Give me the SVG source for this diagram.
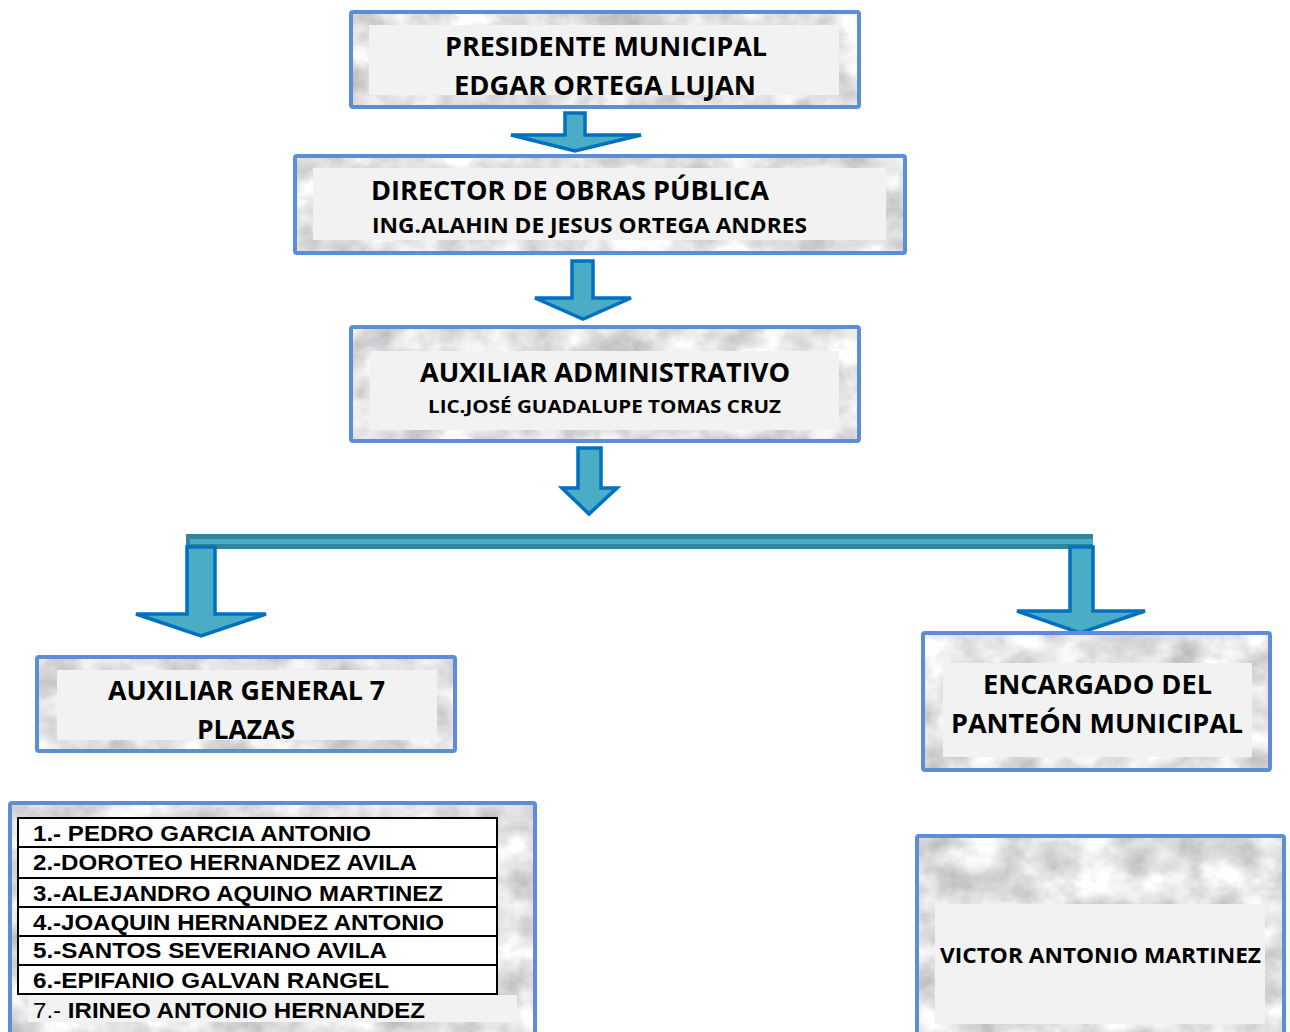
<svg xmlns="http://www.w3.org/2000/svg" width="1290" height="1032" viewBox="0 0 1290 1032">
<defs>
<filter id="marble" x="0" y="0" width="1" height="1" color-interpolation-filters="sRGB">
<feTurbulence type="fractalNoise" baseFrequency="0.025 0.03" numOctaves="4" seed="11" result="n"/>
<feColorMatrix in="n" type="matrix" values="0.45 0 0 0 0.66  0.45 0 0 0 0.66  0.45 0 0 0 0.67  0 0 0 0 1" result="g"/>
<feComposite in="g" in2="SourceGraphic" operator="in"/>
</filter>
<style>
.bg{fill:#e6e6e6;filter:url(#marble);}
.frame{fill:none;stroke:#5B8ED6;stroke-width:4;}
.panel{fill:#f2f2f2;}
.t{font-family:"Open Sans",Lato,"Liberation Sans",sans-serif;font-weight:bold;fill:#000;text-anchor:middle;}
.l{font-family:"Liberation Sans",Arial,sans-serif;font-weight:bold;fill:#000;font-size:22px;}
.arr{fill:#4BACC6;stroke:#0070C0;stroke-width:3.5;stroke-linejoin:miter;}
.row{fill:#fff;stroke:#000;stroke-width:2;}
</style>
</defs>
<rect width="1290" height="1032" fill="#fff"/>

<g id="connectors">
<polygon class="arr" points="565,113 585,113 585,135 641,135 575,151 511,135 565,135"/>
<polygon class="arr" points="572,261 593,261 593,298 631,298 583,319 535,298 572,298"/>
<polygon class="arr" points="578,448 601,448 601,488 617,488 589,514 562,488 578,488"/>
<rect x="186" y="534" width="907" height="15" fill="#31849B"/>
<rect x="190" y="539" width="903" height="5" fill="#4BACC6"/>
<polygon class="arr" points="187,547 215,547 215,614 266,614 201,636 136,614 187,614"/>
<polygon class="arr" points="1070,547 1093,547 1093,611 1145,611 1080,633 1017,611 1070,611"/>
</g>

<g id="presidente">
<rect class="bg" x="351" y="12" width="508" height="95"/>
<rect class="frame" x="351" y="12" width="508" height="95" rx="2"/>
<rect class="panel" x="369" y="25" width="470" height="70"/>
<text class="t" x="606" y="56" font-size="26" textLength="322" lengthAdjust="spacingAndGlyphs">PRESIDENTE MUNICIPAL</text>
<text class="t" x="605" y="95" font-size="26" textLength="302" lengthAdjust="spacingAndGlyphs">EDGAR ORTEGA LUJAN</text>
</g>

<g id="director">
<rect class="bg" x="295" y="156" width="610" height="97"/>
<rect class="frame" x="295" y="156" width="610" height="97" rx="2"/>
<rect class="panel" x="313" y="168" width="573" height="72"/>
<text class="t" x="570" y="200" font-size="26" textLength="398" lengthAdjust="spacingAndGlyphs">DIRECTOR DE OBRAS PÚBLICA</text>
<text class="t" x="589.5" y="233" font-size="21" textLength="435" lengthAdjust="spacingAndGlyphs">ING.ALAHIN DE JESUS ORTEGA ANDRES</text>
</g>

<g id="auxiliar-admin">
<rect class="bg" x="351" y="327" width="508" height="114"/>
<rect class="frame" x="351" y="327" width="508" height="114" rx="2"/>
<rect class="panel" x="370" y="351" width="469" height="79"/>
<text class="t" x="605" y="382" font-size="26" textLength="370" lengthAdjust="spacingAndGlyphs">AUXILIAR ADMINISTRATIVO</text>
<text class="t" x="604.5" y="413" font-size="18.5" textLength="353" lengthAdjust="spacingAndGlyphs">LIC.JOSÉ GUADALUPE TOMAS CRUZ</text>
</g>

<g id="auxiliar-general">
<rect class="bg" x="37" y="657" width="418" height="94"/>
<rect class="frame" x="37" y="657" width="418" height="94" rx="2"/>
<rect class="panel" x="57" y="670" width="380" height="70"/>
<text class="t" x="246.5" y="700" font-size="26" textLength="277" lengthAdjust="spacingAndGlyphs">AUXILIAR GENERAL 7</text>
<text class="t" x="246" y="739" font-size="26" textLength="98" lengthAdjust="spacingAndGlyphs">PLAZAS</text>
</g>

<g id="encargado">
<rect class="bg" x="923" y="633" width="347" height="137"/>
<rect class="frame" x="923" y="633" width="347" height="137" rx="2"/>
<rect class="panel" x="943" y="663" width="309" height="94"/>
<text class="t" x="1097.5" y="694" font-size="26" textLength="229" lengthAdjust="spacingAndGlyphs">ENCARGADO DEL</text>
<text class="t" x="1097" y="733" font-size="26" textLength="292" lengthAdjust="spacingAndGlyphs">PANTEÓN MUNICIPAL</text>
</g>

<g id="lista">
<rect class="bg" x="10" y="803" width="525" height="240"/>
<rect class="frame" x="10" y="803" width="525" height="240" rx="2"/>
<rect class="row" x="18" y="818" width="479" height="29"/>
<rect class="row" x="18" y="847" width="479" height="31"/>
<rect class="row" x="18" y="878" width="479" height="29"/>
<rect class="row" x="18" y="907" width="479" height="29"/>
<rect class="row" x="18" y="936" width="479" height="29"/>
<rect class="row" x="18" y="965" width="479" height="29"/>
<rect class="panel" x="28" y="995" width="489" height="27"/>
<text class="l" x="33" y="841" textLength="338" lengthAdjust="spacingAndGlyphs">1.- PEDRO GARCIA ANTONIO</text>
<text class="l" x="33" y="870" textLength="384" lengthAdjust="spacingAndGlyphs">2.-DOROTEO HERNANDEZ AVILA</text>
<text class="l" x="33" y="901" textLength="410" lengthAdjust="spacingAndGlyphs">3.-ALEJANDRO AQUINO MARTINEZ</text>
<text class="l" x="33" y="930" textLength="411" lengthAdjust="spacingAndGlyphs">4.-JOAQUIN HERNANDEZ ANTONIO</text>
<text class="l" x="33" y="958" textLength="354" lengthAdjust="spacingAndGlyphs">5.-SANTOS SEVERIANO AVILA</text>
<text class="l" x="33" y="988" textLength="356" lengthAdjust="spacingAndGlyphs">6.-EPIFANIO GALVAN RANGEL</text>
<text class="l" x="33" y="1018" textLength="392" lengthAdjust="spacingAndGlyphs"><tspan font-weight="normal">7.- </tspan>IRINEO ANTONIO HERNANDEZ</text>
</g>

<g id="victor">
<rect class="bg" x="917" y="836" width="367" height="210"/>
<rect class="frame" x="917" y="836" width="367" height="210" rx="2"/>
<rect class="panel" x="935" y="904" width="330" height="120"/>
<text class="t" x="1100.5" y="963" font-size="22" textLength="321" lengthAdjust="spacingAndGlyphs">VICTOR ANTONIO MARTINEZ</text>
</g>
</svg>
